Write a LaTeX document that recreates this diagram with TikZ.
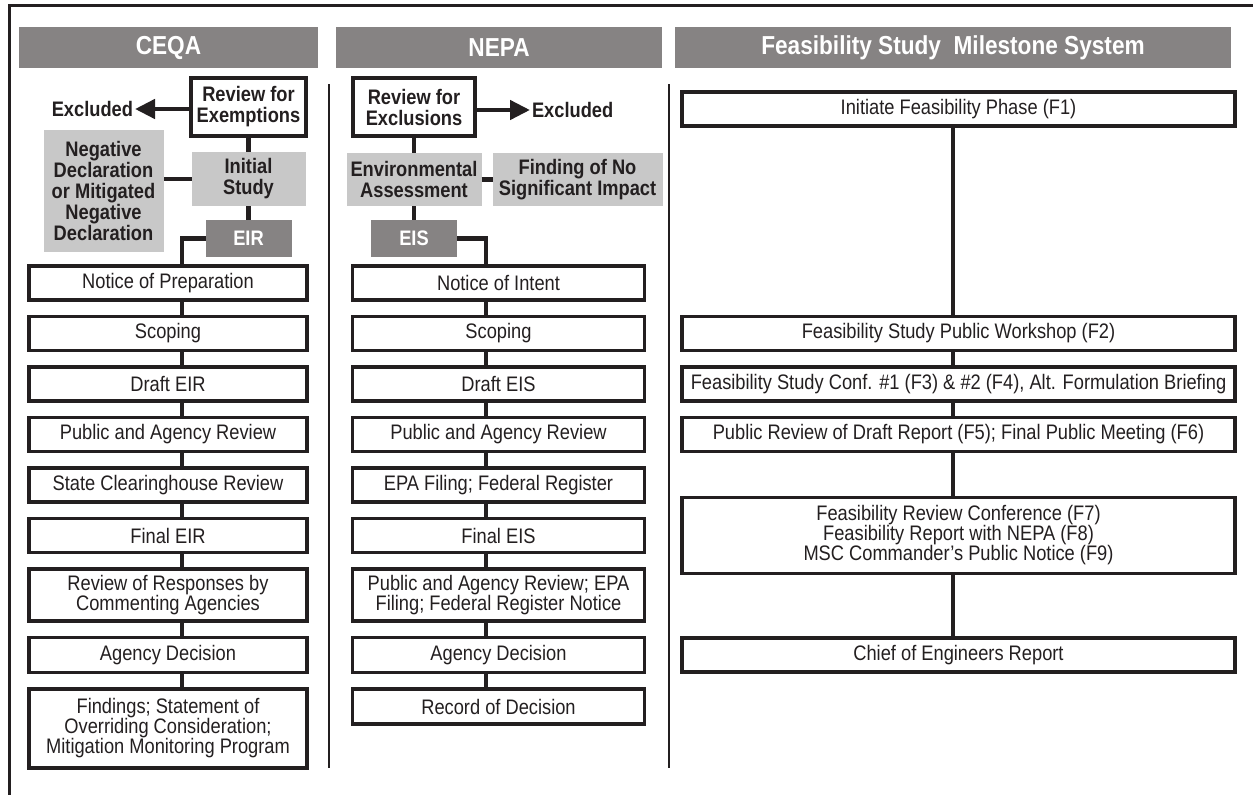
\documentclass[tikz,border=0pt]{standalone}
\usepackage{fontspec}
\setmainfont{Liberation Sans}[FakeStretch=0.87]
\usepackage{tikz}
\usetikzlibrary{arrows.meta,positioning}

\definecolor{ink}{RGB}{35,31,32}
\definecolor{barfill}{RGB}{134,131,131}
\definecolor{boxfill}{RGB}{200,200,200}

\newcommand{\boxfont}{\fontsize{21}{20}\selectfont}
\newcommand{\tagfont}{\fontsize{21}{21}\selectfont\bfseries}
\newcommand{\barfont}{\fontsize{26}{28}\selectfont\bfseries}

\tikzset{
  every node/.style={outer sep=0pt},
  hdr/.style={fill=barfill,text=white,minimum height=41pt,inner sep=0pt,font=\barfont},
  stepbox/.style={draw=ink,line width=3.5pt,fill=white,text=ink,minimum height=34pt,inner sep=2pt,align=center,font=\boxfont},
  cstep/.style={stepbox,minimum width=278pt},
  nstep/.style={stepbox,minimum width=292pt},
  mstep/.style={stepbox,minimum width=553pt},
  keybox/.style={draw=ink,line width=3.5pt,fill=white,text=ink,inner sep=2pt,align=center,font=\tagfont},
  gbox/.style={fill=boxfill,text=ink,inner sep=2pt,align=center,font=\tagfont},
  dbox/.style={fill=barfill,text=white,inner sep=2pt,font=\tagfont},
  note/.style={text=ink,inner sep=2pt,font=\tagfont},
  link/.style={draw=ink,line width=4.5pt},
  arr/.style={link,->}
}

\begin{document}
\begin{tikzpicture}[x=1pt,y=-1pt,node distance=16.5pt,>={Triangle[length=20pt,width=19pt]}]
\useasboundingbox (0,0) rectangle (1253,795);
\draw[line width=3pt,ink] (9.5,795) |- (1253,5);
\foreach \x in {329,669} \draw[line width=2.5pt,ink] (\x,84) -- (\x,768);

\node[hdr,minimum width=299pt] (HC) at (168.5,47.5) {CEQA};
\node[hdr,minimum width=326pt] (HN) [right=18pt of HC] {NEPA};
\node[hdr,minimum width=556pt] (HF) [right=13pt of HN] {Feasibility Study~ Milestone System};

% CEQA
\node[keybox,minimum width=115pt,minimum height=58pt] (CE) at (248.5,107) {Review for\\Exemptions};
\node[note] (CX) [left=56pt of CE,yshift=-2pt] {Excluded};
\node[gbox,minimum width=114pt,minimum height=54pt] (CI) [below=16pt of CE] {Initial\\Study};
\node[gbox,minimum width=120pt,minimum height=122pt] (CN) [left=28pt of CI,yshift=-12pt] {Negative\\Declaration\\or Mitigated\\Negative\\Declaration};
\node[dbox,minimum width=86pt,minimum height=37pt] (CR) [below=14pt of CI] {EIR};

\node[cstep] (C1) at (168,283) {Notice of Preparation};
\node[cstep] (C2) [below=of C1] {Scoping};
\node[cstep] (C3) [below=of C2] {Draft EIR};
\node[cstep] (C4) [below=of C3] {Public and Agency Review};
\node[cstep] (C5) [below=of C4] {State Clearinghouse Review};
\node[cstep] (C6) [below=of C5] {Final EIR};
\node[cstep,minimum height=52pt] (C7) [below=of C6] {Review of Responses by\\Commenting Agencies};
\node[cstep,minimum height=35pt] (C8) [below=of C7] {Agency Decision};
\node[cstep,minimum height=79pt] (C9) [below=of C8] {Findings; Statement of\\Overriding Consideration;\\Mitigation Monitoring Program};

% NEPA
\node[keybox,minimum width=122pt,minimum height=58pt] (NE) at (414,107) {Review for\\Exclusions};
\node[note] (NX) [right=55pt of NE,yshift=-3pt] {Excluded};
\node[gbox,minimum width=135pt,minimum height=53pt] (NA) [below=17pt of NE] {Environmental\\Assessment};
\node[gbox,minimum width=170pt,minimum height=53pt] (NF) [right=11pt of NA] {Finding of No\\Significant Impact};
\node[dbox,minimum width=86pt,minimum height=37pt] (NS) [below=14pt of NA] {EIS};

\node[nstep] (N1) at (498.5,283) {Notice of Intent};
\node[nstep] (N2) [below=of N1] {Scoping};
\node[nstep] (N3) [below=of N2] {Draft EIS};
\node[nstep] (N4) [below=of N3] {Public and Agency Review};
\node[nstep] (N5) [below=of N4] {EPA Filing; Federal Register};
\node[nstep] (N6) [below=of N5] {Final EIS};
\node[nstep,minimum height=52pt] (N7) [below=of N6] {Public and Agency Review; EPA\\Filing; Federal Register Notice};
\node[nstep,minimum height=35pt] (N8) [below=of N7] {Agency Decision};
\node[nstep,minimum height=35pt] (N9) [below=of N8] {Record of Decision};

% milestones
\node[mstep] (M1) at (958.5,109) {Initiate Feasibility Phase (F1)};
\node[mstep] (M2) at (M1 |- C2) {Feasibility Study Public Workshop (F2)};
\node[mstep] (M3) at (M1 |- C3) {Feasibility Study Conf. \#1 (F3) \& \#2 (F4), Alt. Formulation Briefing};
\node[mstep] (M4) at (M1 |- C4) {Public Review of Draft Report (F5); Final Public Meeting (F6)};
\node[mstep,minimum height=76pt] (M5) at (M1 |- C6) {Feasibility Review Conference (F7)\\Feasibility Report with NEPA (F8)\\MSC Commander's Public Notice (F9)};
\node[mstep] (M6) at (M1 |- C8) {Chief of Engineers Report};

\coordinate (cs) at (182,0);
\coordinate (ns) at (486,0);
\coordinate (ms) at (953,0);

\draw[arr] (CE.west |- CX.east) -- (CX.east);
\draw[link] (CE.south) -- (CE.south |- CI.north);
\draw[link] (CI.south) -- (CI.south |- CR.north);
\draw[link] (CI.west) -- (CI.west -| CN.east);
\draw[link] (CR.west) -| (C1.north -| cs);
\foreach \a/\b in {C1/C2,C2/C3,C3/C4,C4/C5,C5/C6,C6/C7,C7/C8,C8/C9}
  \draw[link] (\a.south -| cs) -- (\b.north -| cs);

\draw[arr] (NE.east |- NX.west) -- (NX.west);
\draw[link] (NE.south) -- (NE.south |- NA.north);
\draw[link] (NA.south) -- (NA.south |- NS.north);
\draw[link] (NA) -- (NF);
\draw[link] (NS.east) -| (N1.north -| ns);
\foreach \a/\b in {N1/N2,N2/N3,N3/N4,N4/N5,N5/N6,N6/N7,N7/N8,N8/N9}
  \draw[link] (\a.south -| ns) -- (\b.north -| ns);

\foreach \a/\b in {M1/M2,M2/M3,M3/M4,M4/M5,M5/M6}
  \draw[link] (\a.south -| ms) -- (\b.north -| ms);
\end{tikzpicture}
\end{document}
